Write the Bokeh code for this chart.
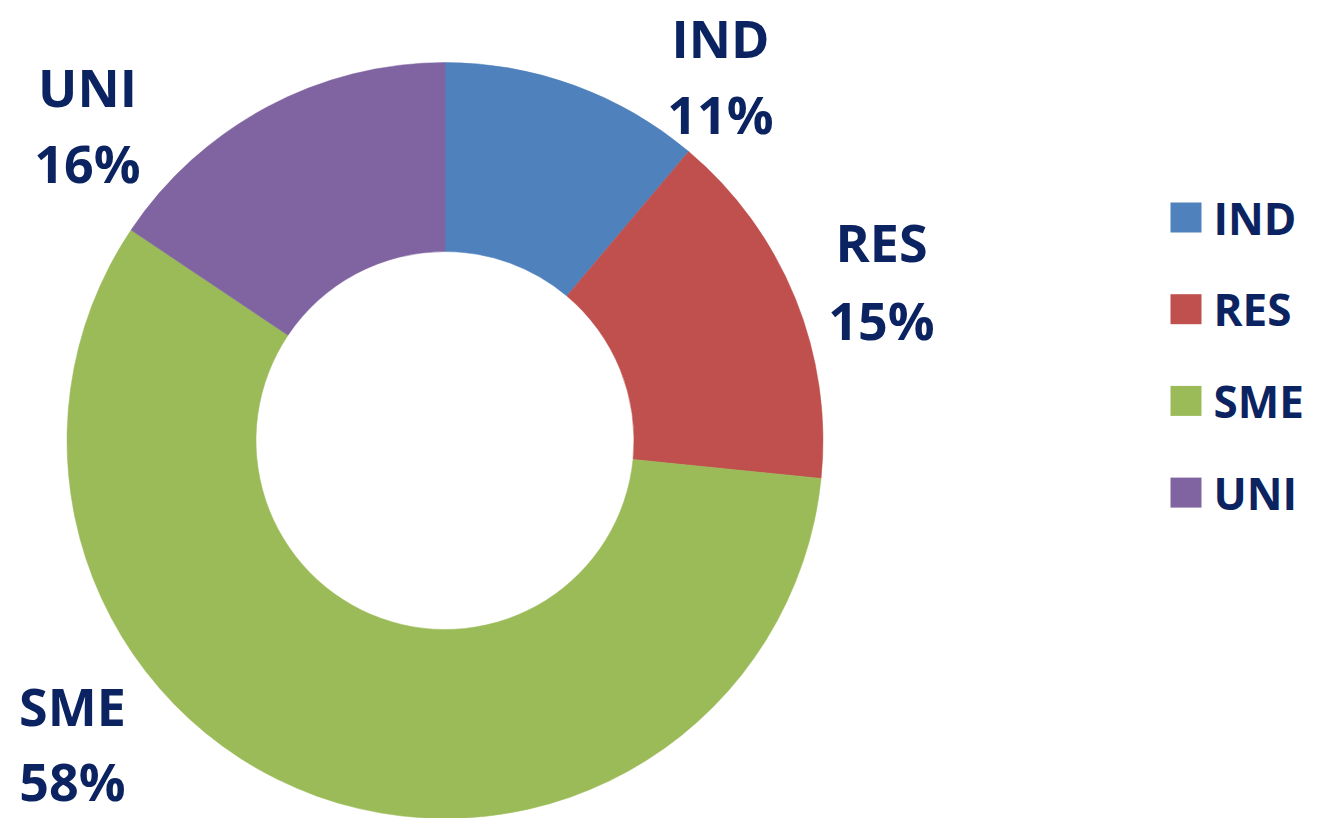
import math
from bokeh.plotting import figure
from bokeh.models import Range1d, ColumnDataSource
from bokeh.core.properties import value
from bokeh.embed import file_html
from bokeh.resources import INLINE

# ---- data ----
categories = ["IND", "RES", "SME", "UNI"]
shares = [11.15, 15.45, 57.8, 15.6]          # slice sizes (%)
colors = ["#4F81BD", "#C0504D", "#9BBB59", "#8064A2"]

# ---- layout (picture pixel coordinates) ----
W, H = 1303, 818
CX, CY = 444.5, 440.0
R_OUT, R_IN = 378.0, 189.0
TEXT_COLOR = "#0B2461"
FONT = "Open Sans"
BASE_FIX = 21  # renderer places alphabetic baseline lower than requested
# label anchors per category: (x center, baseline of name line, baseline of percent line)
label_layout = {"IND": (720, 58, 134), "RES": (881, 262, 340),
                "SME": (72, 726, 801), "UNI": (87, 107, 183)}

def py(y):
    return H - y

p = figure(width=W, height=H, x_range=Range1d(0, W), y_range=Range1d(0, H),
           output_backend="svg", toolbar_location=None, min_border=0,
           outline_line_color=None)
p.axis.visible = False
p.xgrid.visible = False
p.ygrid.visible = False

total = float(sum(shares))
starts, ends = [], []
acc = 0.0
for s in shares:
    a0 = math.pi / 2 - 2 * math.pi * acc / total
    acc += s
    a1 = math.pi / 2 - 2 * math.pi * acc / total
    starts.append(a0)
    ends.append(a1)

src = ColumnDataSource(dict(start=starts, end=ends, color=colors, cat=categories))
p.annular_wedge(x=CX, y=py(CY), inner_radius=R_IN, outer_radius=R_OUT,
                start_angle="start", end_angle="end", direction="clock",
                fill_color="color", line_color="color", line_width=0.5, source=src)

# data labels
names, pcts, lx, ly1, ly2 = [], [], [], [], []
for cat, s in zip(categories, shares):
    x, b1, b2 = label_layout[cat]
    names.append(cat)
    pcts.append(f"{round(100 * s / total)}%")
    lx.append(x)
    ly1.append(py(b1 - BASE_FIX))
    ly2.append(py(b2 - BASE_FIX))
lab = ColumnDataSource(dict(x=lx, y1=ly1, y2=ly2, name=names, pct=pcts))
for col, txt in (("y1", "name"), ("y2", "pct")):
    p.text(x="x", y=col, text=txt, source=lab,
           text_font=value(FONT), text_font_style="bold", text_font_size="52px",
           text_color=TEXT_COLOR, text_align="center", text_baseline="alphabetic")

# legend
leg_x_sq, leg_x_txt = 1185.5, 1213
leg_y0, leg_dy = 217, 91.7
lys = [py(leg_y0 + i * leg_dy) for i in range(len(categories))]
leg = ColumnDataSource(dict(y=lys, color=colors, cat=categories))
p.rect(x=leg_x_sq, y="y", width=31, height=30, fill_color="color", line_color=None, source=leg)
p.text(x=leg_x_txt, y="y", text="cat", source=leg, text_font=value(FONT),
       text_font_style="bold", text_font_size="44px", text_color=TEXT_COLOR,
       text_align="left", text_baseline="middle")

open("out.html", "w").write(file_html(p, INLINE))
